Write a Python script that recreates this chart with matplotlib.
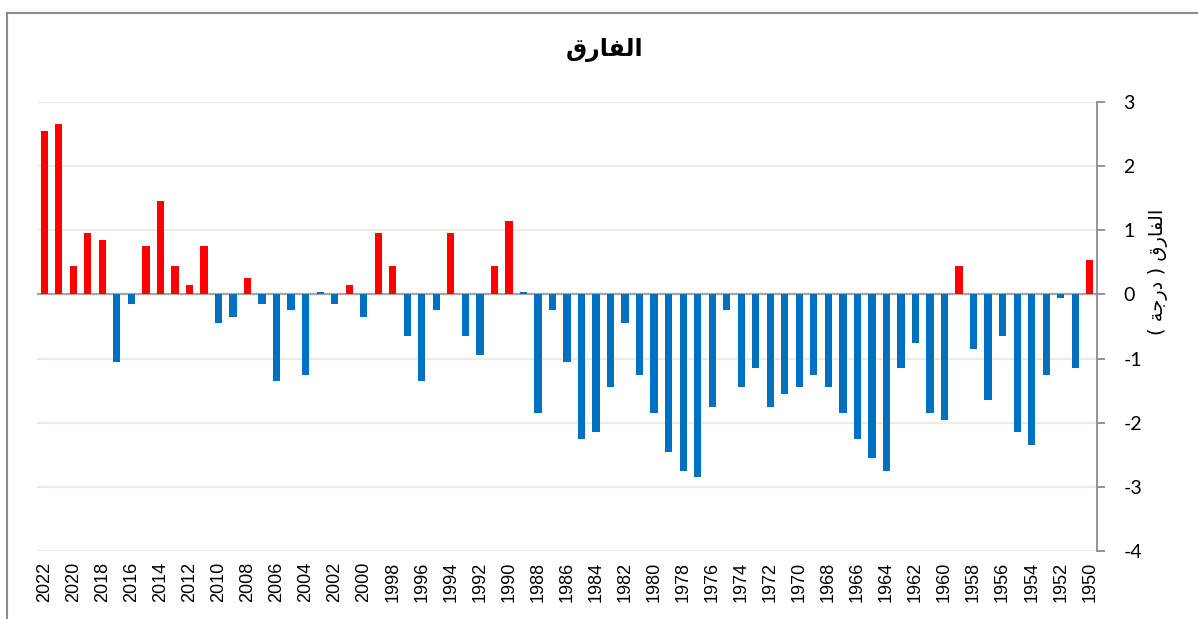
import matplotlib
matplotlib.use("Agg")
import matplotlib.pyplot as plt
from matplotlib.lines import Line2D

plt.rcParams["axes.unicode_minus"] = False

# ---------------- data ----------------
years = list(range(2022, 1949, -1))
anomaly = [
    2.55, 2.65, 0.45, 0.95, 0.85, -1.05, -0.15, 0.75, 1.45, 0.45,   # 2022-2013
    0.15, 0.75, -0.45, -0.35, 0.25, -0.15, -1.35, -0.25, -1.25, 0.04,  # 2012-2003
    -0.15, 0.15, -0.35, 0.95, 0.45, -0.65, -1.35, -0.25, 0.95, -0.65,  # 2002-1993
    -0.95, 0.45, 1.15, 0.04, -1.85, -0.25, -1.05, -2.25, -2.15, -1.45,  # 1992-1983
    -0.45, -1.25, -1.85, -2.45, -2.75, -2.85, -1.75, -0.25, -1.45, -1.15,  # 1982-1973
    -1.75, -1.55, -1.45, -1.25, -1.45, -1.85, -2.25, -2.55, -2.75, -1.15,  # 1972-1963
    -0.75, -1.85, -1.95, 0.45, -0.85, -1.65, -0.65, -2.15, -2.35, -1.25,  # 1962-1953
    -0.05, -1.15, 0.53,  # 1952-1950
]
title_text = "الفارق"
ylabel_text = "الفارق ( درجة )"
yticks = [-4, -3, -2, -1, 0, 1, 2, 3]

# ------------- minimal Arabic shaping (matplotlib has no complex text layout) -------------
FORMS = {  # iso, fin, ini, med
    "ا": ("\uFE8D", "\uFE8E", None, None),
    "ل": ("\uFEDD", "\uFEDE", "\uFEDF", "\uFEE0"),
    "ف": ("\uFED1", "\uFED2", "\uFED3", "\uFED4"),
    "ر": ("\uFEAD", "\uFEAE", None, None),
    "ق": ("\uFED5", "\uFED6", "\uFED7", "\uFED8"),
    "د": ("\uFEA9", "\uFEAA", None, None),
    "ج": ("\uFE9D", "\uFE9E", "\uFE9F", "\uFEA0"),
    "ة": ("\uFE93", "\uFE94", None, None),
}


def shape(s):
    out = []
    for i, ch in enumerate(s):
        if ch not in FORMS:
            out.append(ch)
            continue
        prev = s[i - 1] if i > 0 else ""
        nxt = s[i + 1] if i + 1 < len(s) else ""
        jp = prev in FORMS and FORMS[prev][2] is not None
        jn = FORMS[ch][2] is not None and nxt in FORMS
        f = FORMS[ch]
        if jp and jn:
            out.append(f[3])
        elif jp:
            out.append(f[1])
        elif jn:
            out.append(f[2])
        else:
            out.append(f[0])
    vis = "".join(reversed(out))
    mirror = {"(": ")", ")": "("}
    return "".join(mirror.get(c, c) for c in vis)


# ---------------- figure ----------------
W, H = 1198, 619
fig = plt.figure(figsize=(W / 100, H / 100), dpi=100)
fig.patch.set_facecolor("white")

# outer chart border (cropped Excel chart frame)
fig.add_artist(Line2D([7 / W, 7 / W], [0, 1 - 13 / H], transform=fig.transFigure,
                      color="#8c8c8c", lw=1.5))
fig.add_artist(Line2D([7 / W, 1], [1 - 13 / H, 1 - 13 / H], transform=fig.transFigure,
                      color="#8c8c8c", lw=1.5))

left, right = 37 / W, 1097 / W
top, bottom = 1 - 102 / H, 1 - 551 / H
ax = fig.add_axes([left, bottom, right - left, top - bottom])

x = list(range(len(years)))
colors = ["#FF0000" if v >= 0.1 else "#0070C0" for v in anomaly]
ax.bar(x, anomaly, width=0.5, color=colors, zorder=3)

ax.set_xlim(-0.5, len(years) - 0.5)
ax.set_ylim(-4, 3)
ax.set_yticks(yticks)
ax.yaxis.grid(True, color="#EEECE1", lw=1.6, zorder=0)
ax.set_axisbelow(True)
ax.axhline(0, color="#A6A6A6", lw=1.6, zorder=2.5)

ax.yaxis.tick_right()
for s in ["top", "left", "bottom"]:
    ax.spines[s].set_visible(False)
ax.spines["right"].set_color("#8c8c8c")
ax.spines["right"].set_linewidth(1.3)
ax.tick_params(axis="y", direction="out", length=6, width=1.3, color="#8c8c8c",
               pad=13, labelsize=14, labelcolor="black")
for lab in ax.get_yticklabels():
    lab.set_fontfamily("Lato")

ax.set_xticks(x[::2])
ax.set_xticklabels([str(y) for y in years[::2]], rotation=90, fontsize=13,
                   family="Liberation Sans")
ax.tick_params(axis="x", length=0, pad=8)

fig.text(605 / W, 1 - 50 / H, shape(title_text), ha="center", va="center",
         fontsize=17, fontweight="bold", family="DejaVu Sans")
fig.text(1158 / W, 1 - 272 / H, shape(ylabel_text), ha="center", va="center",
         rotation=90, fontsize=14, family="DejaVu Sans")

fig.savefig("out.png", dpi=100, facecolor="white")
